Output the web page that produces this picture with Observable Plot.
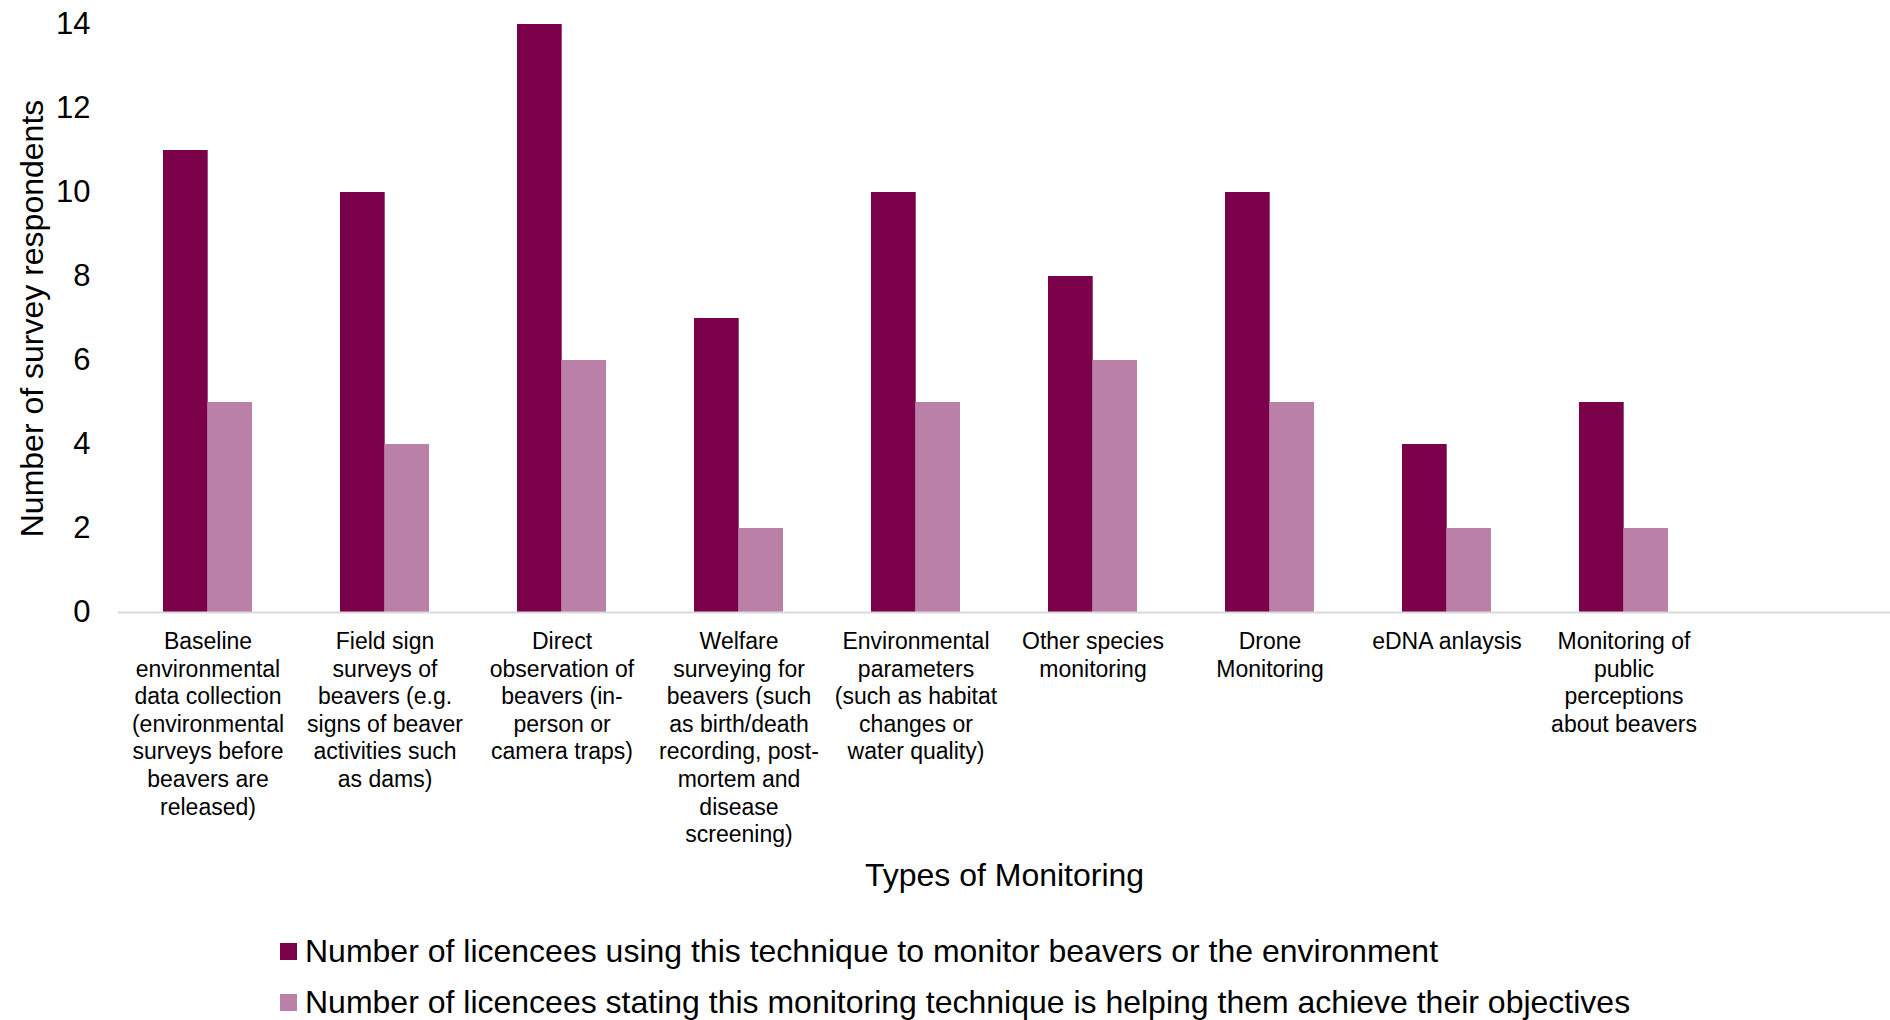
<!DOCTYPE html>
<html>
<head>
<meta charset="utf-8">
<script src="https://cdn.jsdelivr.net/npm/d3@7"></script>
<script src="https://cdn.jsdelivr.net/npm/@observablehq/plot@0.6"></script>
<style>
  body { margin: 0; background: #ffffff; font-family: "Liberation Sans", Arial, sans-serif; }
  #legend { padding-left: 280px; }
  .legend-row { display: flex; align-items: center; height: 51px; font-size: 32px; color: #000; white-space: nowrap; }
  .legend-swatch { width: 17px; height: 17px; margin-right: 8px; flex: none; }
</style>
</head>
<body>
<div id="chart"></div>
<div id="legend"></div>
<script>
// Monitoring techniques (tick labels carry their own line breaks)
const categories = [
  "Baseline\nenvironmental\ndata collection\n(environmental\nsurveys before\nbeavers are\nreleased)",
  "Field sign\nsurveys of\nbeavers (e.g.\nsigns of beaver\nactivities such\nas dams)",
  "Direct\nobservation of\nbeavers (in-\nperson or\ncamera traps)",
  "Welfare\nsurveying for\nbeavers (such\nas birth/death\nrecording, post-\nmortem and\ndisease\nscreening)",
  "Environmental\nparameters\n(such as habitat\nchanges or\nwater quality)",
  "Other species\nmonitoring",
  "Drone\nMonitoring",
  "eDNA anlaysis",
  "Monitoring of\npublic\nperceptions\nabout beavers"
];

// Survey counts per technique
const usingTechnique = [11, 10, 14, 7, 10, 8, 10, 4, 5];
const helpingObjectives = [5, 4, 6, 2, 5, 6, 5, 2, 2];

const seriesNames = [
  "Number of licencees using this technique to monitor beavers or the environment",
  "Number of licencees stating this monitoring technique is helping them achieve their objectives"
];
const seriesColors = ["#7A004A", "#BA80A7"];

const yTicks = [0, 2, 4, 6, 8, 10, 12, 14];
const yTitle = "Number of survey respondents";
const xTitle = "Types of Monitoring";

// One empty slot follows the last technique along the axis
const xDomain = [...categories, ""];

const rows = categories.map((category, i) => ({
  category,
  using: usingTechnique[i],
  helping: helpingObjectives[i]
}));

const width = 1890;
const height = 926;
const marginLeft = 118;
const marginRight = 0;
const marginTop = 24;
const marginBottom = 314;

// Each technique's band holds two side-by-side bars
const step = (width - marginLeft - marginRight) / xDomain.length;
const halfBand = step * 0.25;

const font = "'Liberation Sans', Arial, sans-serif";

const chart = Plot.plot({
  width,
  height,
  marginLeft,
  marginRight,
  marginTop,
  marginBottom,
  style: { fontFamily: font, background: "#ffffff", color: "#000000" },
  x: { domain: xDomain, paddingInner: 0.5, paddingOuter: 0.25 },
  y: { domain: [0, 14] },
  marks: [
    Plot.rectY(rows, { x: "category", y: "using", fill: seriesColors[0], insetLeft: 0, insetRight: halfBand }),
    Plot.rectY(rows, { x: "category", y: "helping", fill: seriesColors[1], insetLeft: halfBand, insetRight: 0 }),
    Plot.ruleY([0], { stroke: "#D9D9D9", strokeWidth: 2 }),
    Plot.axisY({ ticks: yTicks, tickSize: 0, tickPadding: 28, fontSize: 31, label: null, fill: "#000" }),
    Plot.axisX({ tickSize: 0, tickPadding: 17, fontSize: 23, lineHeight: 1.2, label: null, fill: "#000", tickFormat: (d) => d }),
    Plot.text([yTitle], { frameAnchor: "left", textAnchor: "middle", rotate: -90, dx: -86, fontSize: 32, fill: "#000", lineAnchor: "middle" }),
    Plot.text([xTitle], { frameAnchor: "bottom", textAnchor: "middle", dy: 263, fontSize: 32, fill: "#000", lineAnchor: "middle" })
  ]
});

document.getElementById("chart").appendChild(chart);

// Legend below the chart
const legend = document.getElementById("legend");
seriesNames.forEach((name, i) => {
  const row = document.createElement("div");
  row.className = "legend-row";
  const sw = document.createElement("span");
  sw.className = "legend-swatch";
  sw.style.background = seriesColors[i];
  const label = document.createElement("span");
  label.textContent = name;
  row.appendChild(sw);
  row.appendChild(label);
  legend.appendChild(row);
});
</script>
</body>
</html>
